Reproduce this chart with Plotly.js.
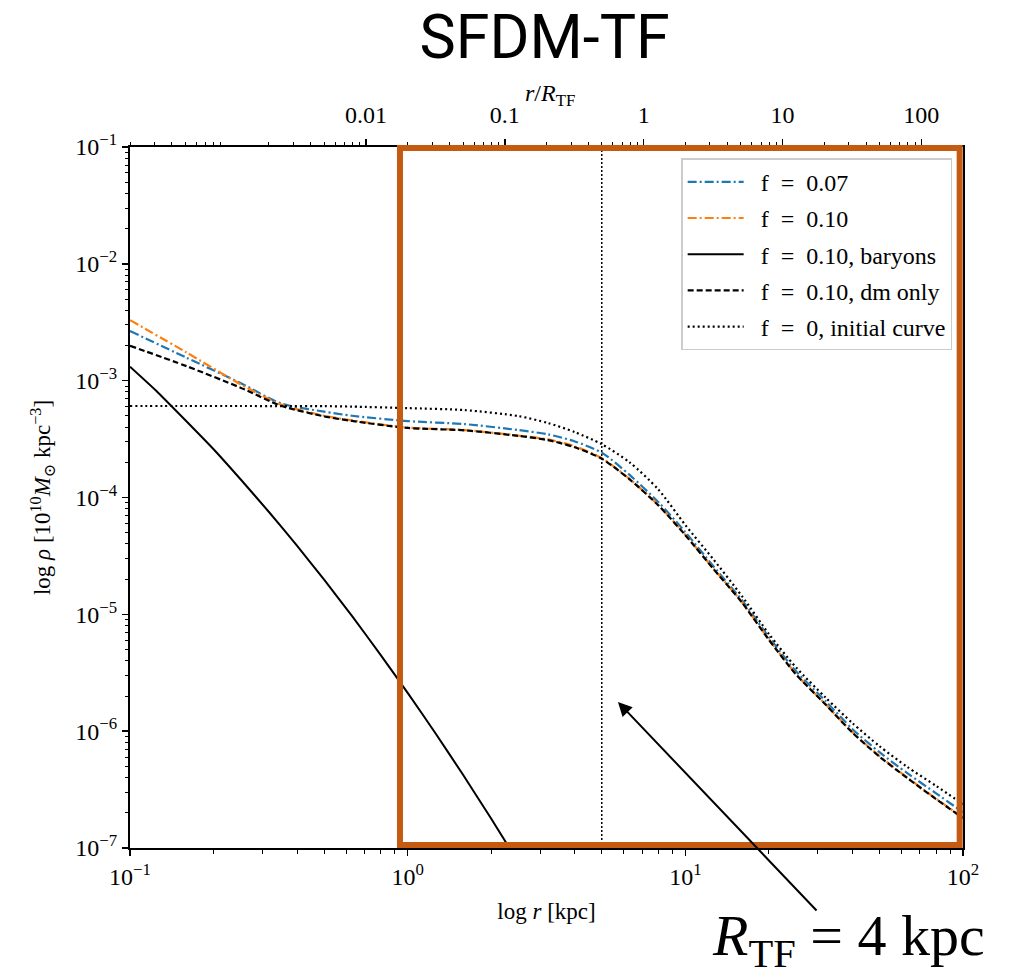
<!DOCTYPE html>
<html>
<head>
<meta charset="utf-8">
<script src="https://cdn.plot.ly/plotly-3.0.1.min.js"></script>
<style>html,body{margin:0;padding:0;background:#fff;}</style>
</head>
<body>
<div id="chart" style="width:1020px;height:978px;"></div>
<script>
// radius grid (kpc) for the dark-matter curves
const rDM = [0.1, 0.16, 0.25, 0.35, 0.5, 0.63, 1, 1.6, 2.5, 3.2, 4, 5, 6.3, 8, 10, 12.6, 16, 20, 25, 32, 40, 50, 63, 80, 100];
// f = 0.07 (blue dash-dot)
const rhoF007 = [2.66e-3, 1.57e-3, 9.55e-4, 6.38e-4, 5.43e-4, 5.01e-4, 4.51e-4, 4.25e-4, 3.78e-4, 3.47e-4, 3.02e-4, 2.42e-4, 1.56e-4, 9.12e-5, 5.06e-5, 2.59e-5, 1.32e-5, 6.38e-6, 3.27e-6, 1.81e-6, 1.04e-6, 6.61e-7, 4.37e-7, 2.94e-7, 2.02e-7];
// f = 0.10 (orange dash-dot)
const rhoF010 = [3.30e-3, 1.74e-3, 9.33e-4, 6.24e-4, 5.01e-4, 4.57e-4, 3.96e-4, 3.78e-4, 3.39e-4, 3.14e-4, 2.74e-4, 2.17e-4, 1.44e-4, 8.61e-5, 4.80e-5, 2.48e-5, 1.27e-5, 6.11e-6, 3.10e-6, 1.70e-6, 9.79e-7, 6.12e-7, 4.01e-7, 2.64e-7, 1.82e-7];
// f = 0.10, dm only (black dashed)
const rhoDMonly = [1.99e-3, 1.33e-3, 8.71e-4, 6.10e-4, 4.95e-4, 4.52e-4, 3.94e-4, 3.76e-4, 3.37e-4, 3.10e-4, 2.69e-4, 2.15e-4, 1.43e-4, 8.55e-5, 4.76e-5, 2.46e-5, 1.26e-5, 6.05e-6, 3.07e-6, 1.69e-6, 9.70e-7, 6.06e-7, 3.97e-7, 2.62e-7, 1.80e-7];
// f = 0, initial curve (black dotted)
const rhoInitial = [6.07e-4, 6.07e-4, 6.07e-4, 6.06e-4, 6.05e-4, 6.00e-4, 5.82e-4, 5.60e-4, 4.98e-4, 4.34e-4, 3.63e-4, 2.86e-4, 2.00e-4, 1.17e-4, 5.81e-5, 2.97e-5, 1.43e-5, 6.79e-6, 3.53e-6, 1.94e-6, 1.17e-6, 7.45e-7, 4.94e-7, 3.40e-7, 2.37e-7];
// f = 0.10, baryons (black solid)
const rBar = [0.1, 0.126, 0.158, 0.2, 0.251, 0.316, 0.398, 0.501, 0.631, 0.794, 1.0, 1.259, 1.585, 1.995, 2.512];
const rhoBaryons = [1.315e-3, 7.93e-4, 4.61e-4, 2.59e-4, 1.419e-4, 7.55e-5, 3.91e-5, 1.968e-5, 9.64e-6, 4.59e-6, 2.13e-6, 9.59e-7, 4.21e-7, 1.795e-7, 7.45e-8];

// labels
const seriesNames = ['\u2002f\u2002=\u20020.07', '\u2002f\u2002=\u20020.10', '\u2002f\u2002=\u20020.10, baryons', '\u2002f\u2002=\u20020.10, dm only', '\u2002f\u2002=\u20020, initial curve'];
const xTickVals = [0.1, 1, 10, 100];
const xTickText = ['10<sup>−1</sup>', '10<sup>0</sup>', '10<sup>1</sup>', '10<sup>2</sup>'];
const yTickVals = [1e-7, 1e-6, 1e-5, 1e-4, 1e-3, 1e-2, 1e-1];
const yTickText = ['10<sup>−7</sup>', '10<sup>−6</sup>', '10<sup>−5</sup>', '10<sup>−4</sup>', '10<sup>−3</sup>', '10<sup>−2</sup>', '10<sup>−1</sup>'];
const topTickVals = [0.01, 0.1, 1, 10, 100];
const topTickText = ['0.01', '0.1', '1', '10', '100'];
const rTF = 5;

function minorTicks(lo, hi) {
  const out = [];
  for (let e = lo; e < hi; e++) for (let m = 2; m <= 9; m++) out.push(m * Math.pow(10, e));
  return out;
}

const serif = 'Liberation Serif, DejaVu Serif, serif';
const spline = {shape: 'spline', smoothing: 0.7, simplify: false};

const traces = [
  {x: rDM, y: rhoF007, name: seriesNames[0], mode: 'lines', legendgroup: 'a',
   line: Object.assign({color: '#1f77b4', width: 2.2, dash: '9px,3px,2px,3px'}, spline)},
  {x: rDM, y: rhoF010, name: seriesNames[1], mode: 'lines', legendgroup: 'b',
   line: Object.assign({color: '#ff7f0e', width: 2.2, dash: '9px,3px,2px,3px'}, spline)},
  {x: rBar, y: rhoBaryons, name: seriesNames[2], mode: 'lines', legendgroup: 'c',
   line: {color: '#000000', width: 2, shape: 'spline', smoothing: 0.5, simplify: false}},
  {x: rDM, y: rhoDMonly, name: seriesNames[3], mode: 'lines', legendgroup: 'd',
   line: Object.assign({color: '#000000', width: 2.2, dash: '6px,3px'}, spline)},
  {x: rDM, y: rhoInitial, name: seriesNames[4], mode: 'lines', legendgroup: 'e',
   line: Object.assign({color: '#000000', width: 2.2, dash: '2px,3px'}, spline)},
  {x: [], y: [], xaxis: 'x2', yaxis: 'y', showlegend: false, hoverinfo: 'skip'}
];

const layout = {
  width: 1020, height: 978,
  margin: {l: 130, r: 57, t: 147, b: 130},
  paper_bgcolor: '#ffffff', plot_bgcolor: '#ffffff',
  font: {family: serif, color: '#000000'},
  title: {text: 'SFDM-TF', font: {family: 'Roboto, Noto Sans, sans-serif', size: 61, color: '#000'},
          x: 0.534, xref: 'container', xanchor: 'center', y: 0.9625, yref: 'container', yanchor: 'middle'},
  showlegend: true,
  legend: {x: 0.987, y: 0.984, xanchor: 'right', yanchor: 'top', bgcolor: 'rgba(255,255,255,0.9)',
           bordercolor: '#cccccc', borderwidth: 1.5, font: {family: serif, size: 24, color: '#000'},
           tracegroupgap: 2, itemwidth: 56},
  xaxis: {type: 'log', range: [-1, 2], tickmode: 'array', tickvals: xTickVals, ticktext: xTickText,
          ticks: 'outside', ticklen: 6, tickwidth: 1.5, tickcolor: '#000',
          minor: {tickmode: 'array', tickvals: minorTicks(-1, 2), ticks: 'outside', ticklen: 3.5, tickwidth: 1, tickcolor: '#000', showgrid: false},
          showline: true, linecolor: '#000', linewidth: 2, showgrid: false, zeroline: false,
          tickfont: {family: serif, size: 24},
          title: {text: 'log <i>r</i> [kpc]', font: {family: serif, size: 23}, standoff: 14}},
  xaxis2: {type: 'log', range: [-3.70, 2.30], overlaying: 'x', anchor: 'y', side: 'top',
           tickmode: 'array', tickvals: topTickVals, ticktext: topTickText,
           ticks: 'outside', ticklen: 6, tickwidth: 1.5, tickcolor: '#000', ticklabelstandoff: 6,
           minor: {tickmode: 'array', tickvals: minorTicks(-4, 3), ticks: 'outside', ticklen: 3.5, tickwidth: 1, tickcolor: '#000', showgrid: false},
           showline: true, linecolor: '#000', linewidth: 2, showgrid: false, zeroline: false,
           tickfont: {family: serif, size: 24}},
  yaxis: {type: 'log', range: [-7, -1], tickmode: 'array', tickvals: yTickVals, ticktext: yTickText,
          ticks: 'outside', ticklen: 6, tickwidth: 1.5, tickcolor: '#000',
          minor: {tickmode: 'array', tickvals: minorTicks(-7, -1), ticks: 'outside', ticklen: 3.5, tickwidth: 1, tickcolor: '#000', showgrid: false},
          showline: true, mirror: true, linecolor: '#000', linewidth: 2, showgrid: false, zeroline: false,
          tickfont: {family: serif, size: 24},
          title: {text: 'log <i>ρ</i> [10<sup>10</sup><i>M</i><sub>⊙</sub> kpc<sup>−3</sup>]', font: {family: serif, size: 23}, standoff: 18}},
  shapes: [
    {type: 'line', xref: 'x', yref: 'paper', x0: rTF, x1: rTF, y0: 0, y1: 1,
     line: {color: '#000', width: 1.5, dash: '2px,2px'}, layer: 'above'},
    {type: 'rect', xref: 'paper', yref: 'paper', x0: 0.3241, x1: 0.996, y0: 0.0043, y1: 0.9986,
     line: {color: '#C55A11', width: 6}, fillcolor: 'rgba(0,0,0,0)', layer: 'above'}
  ],
  annotations: [
    {xref: 'paper', yref: 'paper', x: 0.504, y: 1.0742, xanchor: 'center', yanchor: 'middle',
     text: '<i>r</i>/<i>R</i><sub>TF</sub>', showarrow: false, font: {family: serif, size: 24, color: '#000'}},
    {xref: 'paper', yref: 'paper', x: 0.5858, y: 0.2083, ax: 200, ay: 210, axref: 'pixel', ayref: 'pixel',
     text: '', showarrow: true, arrowhead: 2, arrowsize: 1.4, arrowwidth: 2, arrowcolor: '#000'},
    {xref: 'paper', yref: 'paper', x: 0.863, y: -0.1312, xanchor: 'center', yanchor: 'middle',
     text: '<i>R</i><sub>TF</sub> = 4 kpc', showarrow: false, font: {family: serif, size: 58, color: '#000'}}
  ]
};

Plotly.newPlot('chart', traces, layout, {displayModeBar: false, staticPlot: true});
</script>
</body>
</html>
